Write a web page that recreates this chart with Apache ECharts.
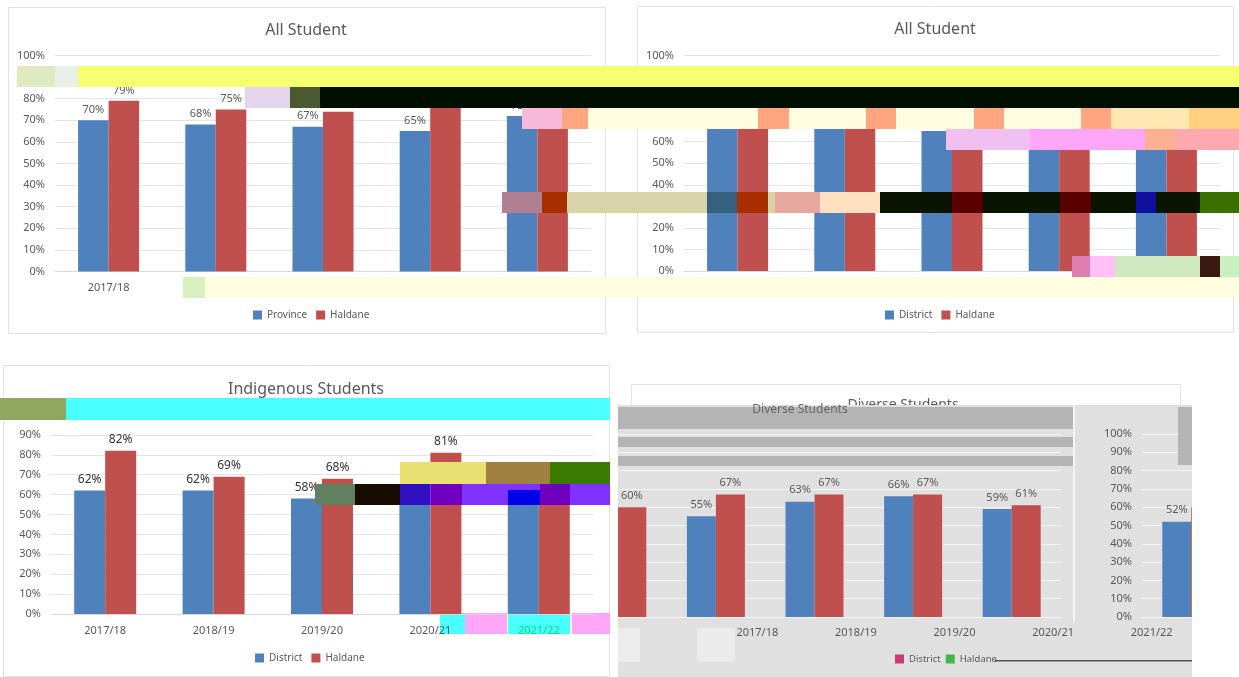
<!DOCTYPE html>
<html><head><meta charset="utf-8">
<style>
html,body{margin:0;padding:0;background:#fff;width:1239px;height:677px;overflow:hidden}
.layer{position:absolute;left:0;top:0;width:1239px;height:677px}
.clip{position:absolute;overflow:hidden;background:#e0e0e0}
.inner{position:absolute;width:574px;height:272px}
</style>
<script src="https://cdn.jsdelivr.net/npm/echarts@6/dist/echarts.min.js"></script>
</head><body>
<div id="c1" class="layer"></div><div id="c2" class="layer"></div><div id="c3" class="layer"></div>
<div id="c4title" class="layer"></div>
<div class="clip" style="left:1073px;top:405px;width:119px;height:217px"><div id="c4a" class="inner" style="left:0;top:0"></div></div>
<div class="clip" style="left:618px;top:405px;width:455px;height:217px"><div id="c4b" class="inner" style="left:-119px;top:0"></div></div>
<div class="clip" style="left:618px;top:622px;width:574px;height:55px"><div id="c4c" class="inner" style="left:21px;top:-217px"></div></div>
<div id="overlay" class="layer"></div>
<script>
const years = ['2017/18','2018/19','2019/20','2020/21','2021/22'];
const provinceAll = [70,68,67,65,72];
const haldaneAll = [79,75,74,76,73];
const districtAll = [67,67,65,66,66];
const districtIndigenous = [62,62,58,63,62];
const haldaneIndigenous = [82,69,68,81,67];
const districtDiverse = [52,55,63,66,59];
const haldaneDiverse = [60,67,67,67,61];

const FONT = '"Noto Sans", sans-serif';
const TEXT = '#595959', BLUE = '#4f81bd', RED = '#c0504d';

function panel(c){
  const lab = {show:true,position:'top',distance:c.labelDist||5,formatter:'{c}%',fontSize:c.labelSize||11,color:c.labelColor||TEXT,fontFamily:FONT};
  return {
    animation:false,
    backgroundColor:c.bg||'transparent',
    title:{text:c.title||'',left:c.titleX,top:c.titleY,textAlign:'center',
      textStyle:{fontSize:c.titleSize||16,fontWeight:'normal',color:TEXT,fontFamily:FONT}},
    legend:{left:c.legendX,top:c.legendY,itemWidth:9,itemHeight:9,itemGap:c.legendGap||9,icon:'rect',
      textStyle:{fontSize:c.legendSize||10,color:TEXT,fontFamily:FONT},
      data:c.legendData||[c.nameA,c.nameB]},
    grid:{left:c.x,top:c.y,width:c.w,height:c.h,containLabel:false},
    xAxis:{type:'category',data:years,
      axisTick:{show:false},axisLine:{lineStyle:{color:c.gridColor||'#d9d9d9'}},
      axisLabel:{show:c.catLabels!==false,fontSize:11,margin:c.catMargin||11,color:c.catColor||TEXT,fontFamily:FONT}},
    yAxis:{type:'value',min:0,max:100,interval:10,
      axisLine:{show:false},axisTick:{show:false},
      splitLine:{lineStyle:{color:c.gridColor||'#e4e4e4',width:1}},
      axisLabel:{formatter:'{value}%',fontSize:11,margin:10,color:TEXT,fontFamily:FONT}},
    series:[
      {name:c.nameA,type:'bar',data:c.a,barWidth:c.barW,barGap:0,itemStyle:{color:BLUE},label:lab},
      {name:c.nameB,type:'bar',data:c.b,barWidth:c.barW,barGap:0,itemStyle:{color:RED},label:lab}
    ],
    graphic:c.box?[{type:'rect',z:-1,silent:true,shape:{x:c.box[0],y:c.box[1],width:c.box[2],height:c.box[3]},
      style:{fill:'#fff',stroke:'#e2e2e2',lineWidth:1}}].concat(c.under||[]):[]
  };
}
function draw(id,opt){ echarts.init(document.getElementById(id),null,{renderer:'canvas'}).setOption(opt); }

draw('c1',panel({title:'All Student',titleX:301,titleY:17,box:[8.5,7.5,597,326],x:55,y:55.5,w:536,h:216,
  nameA:'Province',nameB:'Haldane',a:provinceAll,b:haldaneAll,barW:30.5,legendX:248,legendY:305}));
draw('c2',panel({title:'All Student',titleX:930,titleY:16,box:[637.5,6.5,596,326],x:684,y:55.5,w:536,h:215.5,
  nameA:'District',nameB:'Haldane',a:districtAll,b:haldaneAll,barW:30.5,legendX:880,legendY:305}));
const under3=[[440,613,25,21,'#4affff'],[465,613,42,21,'#ffa6f8'],[508,613,62,21,'#4affff'],[572,613,38,21,'#ffa6f8']]
  .map(r=>({type:'rect',z:0,silent:true,shape:{x:r[0],y:r[1],width:r[2],height:r[3]},style:{fill:r[4]}}));
draw('c3',panel({title:'Indigenous Students',titleX:301,titleY:376,box:[3.5,365.5,606,311],x:51,y:415,w:542,h:199,
  nameA:'District',nameB:'Haldane',a:districtIndigenous,b:haldaneIndigenous,barW:31,legendX:250,legendY:648,
  labelColor:'#333',labelSize:12,under:under3,
  catColor:(v)=>v==='2021/22'?'#00e070':TEXT}));

/* the white top of the fourth panel, above the grey area */
draw('c4title',panel({title:'Diverse Students',titleX:898,titleY:393,titleSize:14,box:[631.5,384.5,549,60],x:-500,y:-500,w:1,h:1,
  nameA:'District',nameB:'Haldane',a:[],b:[],legendX:-500,legendY:-500,catLabels:false}));

/* the fourth panel is shifted round inside its grey area: one drawing, shown through three windows */
const diverse={x:69,y:29,w:493,h:183,nameA:'District',nameB:'Haldane',a:districtDiverse,b:haldaneDiverse,barW:29,
  bg:'#e0e0e0',gridColor:'#f5f5f5',legendX:251,legendY:244,legendGap:5,legendSize:9.5,catMargin:10,labelDist:6,
  legendData:[{name:'District',itemStyle:{color:'#c83c78'}},{name:'Haldane',itemStyle:{color:'#40b848'}}]};
draw('c4a',panel(diverse));draw('c4b',panel(diverse));draw('c4c',panel(diverse));

/* flat damage blocks that lie over the picture (not data) */
const damageBlocks=[
 [17,66,38,21,'#dfeac0'],[55,66,23,21,'#e8f0e8'],[78,66,1161,21,'#f6ff70'],
 [245,87,45,21,'#e4d4ec'],[290,87,30,21,'#4a5a30'],[320,87,919,21,'#001000'],
 [522,108,40,21,'#f8b8d8'],[562,108,26,21,'#ffa680'],[588,108,651,21,'#fffde0'],
 [758,108,31,21,'#ffa680'],[866,108,30,21,'#ffa680'],[974,108,30,21,'#ffa680'],[1081,108,30,21,'#ffa680'],
 [1111,108,78,21,'#ffe8b0'],[1189,108,50,21,'#ffd080'],
 [946,129,84,21,'#f0c0f0'],[1030,129,115,21,'#ffa6f8'],[1145,129,30,21,'#ffb090'],[1175,129,64,21,'#ffa8b0'],
 [502,192,40,21,'#b08090'],[542,192,25,21,'#a83000'],[567,192,140,21,'#d8d4a8'],
 [707,192,30,21,'#356080'],[737,192,31,21,'#a83000'],[768,192,7,21,'#d8d4a8'],
 [775,192,45,21,'#e8a8a0'],[820,192,60,21,'#ffe0c0'],[880,192,320,21,'#0a1400'],[1200,192,39,21,'#3a7000'],
 [952,192,31,21,'#5a0000'],[1060,192,31,21,'#5a0000'],[1136,192,20,21,'#1010a0'],
 [1072,256,18,21,'#e080b0'],[1090,256,25,21,'#ffc0f8'],[1115,256,85,21,'#d0e8c0'],[1200,256,20,21,'#3a1a10'],[1220,256,19,21,'#c8f0c0'],
 [183,277,22,21,'#d8f0c0'],[205,277,1034,21,'#fffde0'],
 [0,398,66,22,'#90a860'],[66,398,544,22,'#4affff'],
 [400,462,86,22,'#e8e070'],[486,462,64,22,'#a08040'],[550,462,60,22,'#3a7a00'],
 [315,484,40,21,'#608060'],[355,484,45,21,'#180c00'],[400,484,30,21,'#3010c0'],[430,484,180,21,'#8030ff'],
 [431,484,31,21,'#7000c0'],[508,490,32,15,'#0000e8'],[540,484,30,21,'#7000c0'],
 [618,407,455,22,'#b4b4b4'],[618,437,455,10,'#b4b4b4'],[618,456,455,10,'#b4b4b4'],
 [1178,407,14,58,'#b4b4b4'],[1073,405,2,217,'#f5f5f5'],
 [618,628,22,34,'#ececec'],[697,628,38,34,'#ebebeb'],[995,660,197,1.5,'#555555']
];
const overlayGraphic=damageBlocks.map(b=>({type:'rect',silent:true,shape:{x:b[0],y:b[1],width:b[2],height:b[3]},style:{fill:b[4]}}));
overlayGraphic.push({type:'text',silent:true,x:800,y:404,style:{text:'Diverse Students',fontSize:12,fontFamily:FONT,fill:'#666',textAlign:'center'}});
draw('overlay',{animation:false,backgroundColor:'transparent',graphic:overlayGraphic});
</script>
</body></html>
